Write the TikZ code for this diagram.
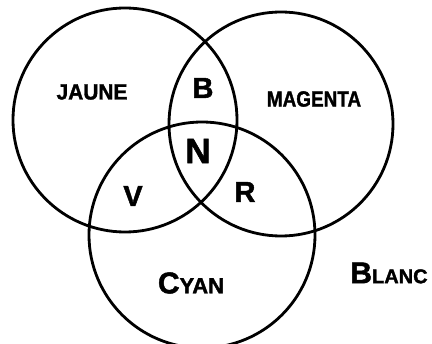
\documentclass[tikz,border=0pt]{standalone}
\usepackage{fontspec}
\setmainfont{Liberation Sans}[BoldFeatures={FakeBold=1.6}]
\usetikzlibrary{positioning}

\begin{document}
\begin{tikzpicture}[
  x=1pt, y=-1pt,
  ring/.style={draw, circle, line width=2.8pt, minimum size=224pt, inner sep=0pt},
  lbl/.style={font=\bfseries\fontsize{22}{22}\selectfont, inner sep=0pt},
  big/.style={font=\bfseries\fontsize{29}{29}\selectfont, inner sep=0pt}
]
  \useasboundingbox (0,0) rectangle (432,344);
  \clip (0,0) rectangle (432,344);

  % the three discs
  \node[ring] (jaune) at (125,120) {};
  \node[ring] (magenta) at (281,124) {};
  \node[ring, minimum size=226pt] (cyan) at (202,235) {};

  % names of the discs
  \node[lbl] (tJaune) at (92,92) {\scalebox{0.95}[1]{JAUNE}};
  \node[lbl] (tMagenta) at (314,99) {\scalebox{0.86}[1]{MAGENTA}};
  \node[lbl] (tCyan) at (191,283) {{\fontsize{30}{30}\selectfont C}YAN};
  \node[lbl] (tBlanc) at (389,273) {{\fontsize{30}{30}\selectfont B}{\fontsize{20}{20}\selectfont LANC}};

  % overlaps
  \node[big] (tB) at (203,88) {B};
  \node[big, font=\bfseries\fontsize{35}{35}\selectfont] (tN) at (198,151) {N};
  \node[big] (tV) at (133,196) {V};
  \node[big] (tR) at (245,192) {R};
\end{tikzpicture}
\end{document}
